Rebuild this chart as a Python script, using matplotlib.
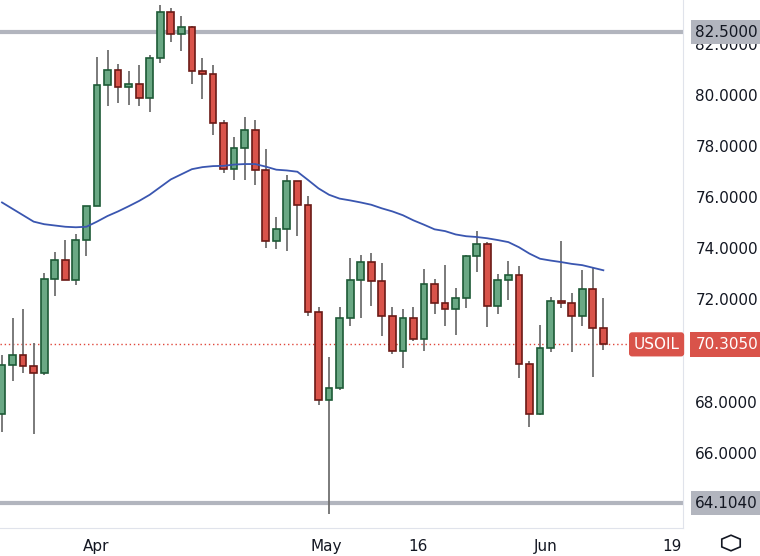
import matplotlib
matplotlib.use("Agg")
import matplotlib.pyplot as plt
from matplotlib.patches import Rectangle, RegularPolygon
import numpy as np

opens  = [67.59,69.50,69.89,69.46,69.19,72.86,73.60,72.82,74.38,75.71,80.44,81.02,80.36,80.48,79.93,81.49,83.29,82.43,82.70,80.98,
          80.87,78.95,77.16,77.98,78.68,77.12,74.34,74.81,76.69,75.75,71.57,68.13,68.60,71.34,72.82,73.52,72.78,71.41,70.05,71.34,
          70.52,72.66,71.92,71.69,72.12,73.76,74.23,71.80,72.82,73.02,69.54,67.59,70.16,72.00,71.92,71.41,72.47,70.95]
highs  = [69.89,71.34,71.69,70.36,73.09,73.91,74.38,74.62,75.71,81.53,81.80,81.26,80.98,81.22,81.61,83.56,83.45,83.13,82.74,81.49,
          81.22,79.07,78.41,79.19,79.07,77.94,75.28,76.92,76.69,76.10,71.77,69.81,71.77,73.68,73.80,73.88,73.48,71.77,71.69,71.77,
          73.25,72.86,73.41,72.51,73.80,74.74,74.30,73.05,73.56,73.37,69.66,71.06,72.16,74.34,72.31,73.21,73.29,72.12]
lows   = [66.88,68.88,69.19,66.80,69.11,72.20,72.82,72.62,73.76,75.71,79.62,79.73,79.66,79.62,79.38,81.30,82.12,81.77,80.48,79.89,
          78.48,77.00,76.73,76.73,76.53,74.07,74.03,73.95,74.54,71.41,67.94,63.68,68.52,71.02,71.34,71.80,70.63,69.93,69.38,70.44,
          70.05,71.49,71.02,70.67,71.73,73.13,70.98,71.49,72.04,68.99,67.08,67.55,70.00,71.73,70.00,71.02,69.03,70.09]
closes = [69.50,69.89,69.46,69.19,72.86,73.60,72.82,74.38,75.71,80.44,81.02,80.36,80.48,79.93,81.49,83.29,82.43,82.70,80.98,80.87,
          78.95,77.16,77.98,78.68,77.12,74.34,74.81,76.69,75.75,71.57,68.13,68.60,71.34,72.82,73.52,72.78,71.41,70.05,71.34,70.52,
          72.66,71.92,71.69,72.12,73.76,74.23,71.80,72.82,73.02,69.54,67.59,70.16,72.00,71.92,71.41,72.47,70.95,70.305]
ma = [75.85,75.6,75.35,75.1,75.0,74.95,74.9,74.88,74.9,75.1,75.32,75.5,75.7,75.91,76.15,76.45,76.75,76.95,77.15,77.23,
      77.27,77.28,77.33,77.35,77.35,77.25,77.13,77.1,77.05,76.73,76.4,76.15,76.0,75.93,75.85,75.76,75.62,75.5,75.35,75.15,
      74.98,74.8,74.73,74.6,74.53,74.5,74.45,74.38,74.3,74.1,73.85,73.65,73.58,73.52,73.45,73.4,73.3,73.2]
xtick_pos = [8.9, 30.7, 39.4, 51.5, 63.5]
xtick_labels = ["Apr", "May", "16", "Jun", "19"]
ytick_vals = [66, 68, 70, 72, 74, 76, 78, 80, 82]
level_hi, level_lo = 82.5, 64.104
last_price = 70.305
symbol = "USOIL"

W, H = 760, 556
fig = plt.figure(figsize=(W/100, H/100), dpi=100)
ax = fig.add_axes([0, 28/H, 683/W, 528/H])
ax.set_xlim(-0.19, 64.55)
ax.set_ylim(63.13, 83.76)

GREEN, GEDGE = "#6aa884", "#1d5a36"
RED, REDGE = "#d9534a", "#6b1a16"
x = np.arange(len(opens))
ax.axhline(level_hi, color="#b2b5be", lw=3, zorder=1)
ax.axhline(level_lo, color="#b2b5be", lw=3, zorder=1)
ax.axhline(last_price, color="#e0473b", lw=1, ls=(0, (1, 2)), zorder=1)
for i in x:
    up = closes[i] >= opens[i]
    ax.vlines(i, lows[i], highs[i], color="#6f6f6f", lw=1.3, zorder=2)
    lo, hi = min(opens[i], closes[i]), max(opens[i], closes[i])
    ax.add_patch(Rectangle((i-0.32, lo), 0.64, max(hi-lo, 0.08),
                 facecolor=GREEN if up else RED, edgecolor=GEDGE if up else REDGE, lw=1.2, zorder=3))
ax.plot(x, ma, color="#3a56b0", lw=1.3, zorder=4)

ax.set_xticks(xtick_pos)
ax.set_xticklabels(xtick_labels, fontsize=11, color="#131722")
ax.tick_params(axis="x", length=0, pad=8)
ax.set_yticks([])
for s in ["top", "left"]:
    ax.spines[s].set_visible(False)
ax.spines["bottom"].set_color("#e0e3eb")
ax.spines["right"].set_color("#e0e3eb")

for v in ytick_vals:
    ax.text(1.018, v, f"{v:.4f}", transform=ax.get_yaxis_transform(), fontsize=11,
            color="#131722", va="center", ha="left", clip_on=False)
for v in (level_hi, level_lo):
    ax.text(1.018, v, f"{v:.4f}", transform=ax.get_yaxis_transform(), fontsize=11,
            color="#131722", va="center", ha="left", clip_on=False,
            bbox=dict(boxstyle="square,pad=0.3", fc="#b2b5be", ec="none"))
ax.text(1.018, last_price, f"{last_price:.4f}", transform=ax.get_yaxis_transform(), fontsize=11,
        color="white", va="center", ha="left", clip_on=False,
        bbox=dict(boxstyle="square,pad=0.35", fc="#d9534a", ec="none"))
ax.text(0.995, last_price, symbol, transform=ax.get_yaxis_transform(), fontsize=11,
        color="white", va="center", ha="right", clip_on=False,
        bbox=dict(boxstyle="round,pad=0.3,rounding_size=0.2", fc="#d9534a", ec="none"))
fig.patches.append(RegularPolygon((731/W, 1-543/H), 6, radius=0.014, transform=fig.transFigure,
                                  fc="none", ec="#131722", lw=1.2))
fig.savefig("out.png", dpi=100)
